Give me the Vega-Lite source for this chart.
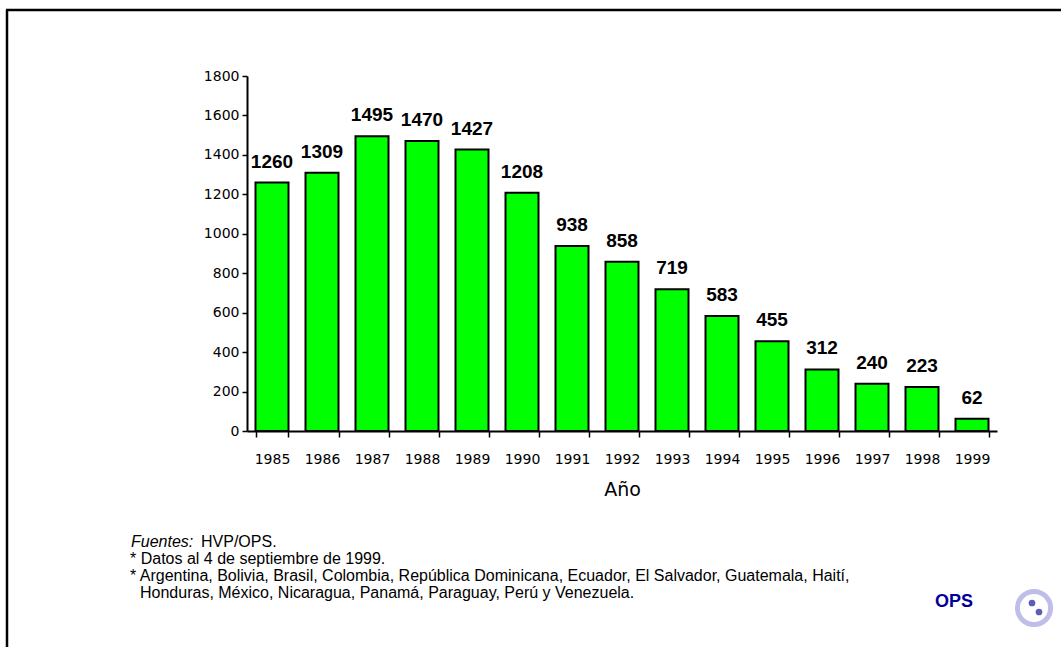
{
  "$schema": "https://vega.github.io/schema/vega-lite/v6.json",
  "autosize": {"type": "none"},
  "width": 750,
  "height": 355,
  "padding": {"left": 247, "top": 76, "right": 64, "bottom": 216},
  "background": "white",
  "config": {
    "view": {"stroke": null},
    "font": "Liberation Sans",
    "axis": {"labelColor": "black", "titleColor": "black", "domainColor": "black", "tickColor": "black", "grid": false, "labelFont": "DejaVu Sans", "titleFont": "DejaVu Sans"}
  },
  "layer": [
    {
      "data": {"values": [
        {"year": "1985", "cases": 1260}, {"year": "1986", "cases": 1309}, {"year": "1987", "cases": 1495},
        {"year": "1988", "cases": 1470}, {"year": "1989", "cases": 1427}, {"year": "1990", "cases": 1208},
        {"year": "1991", "cases": 938}, {"year": "1992", "cases": 858}, {"year": "1993", "cases": 719},
        {"year": "1994", "cases": 583}, {"year": "1995", "cases": 455}, {"year": "1996", "cases": 312},
        {"year": "1997", "cases": 240}, {"year": "1998", "cases": 223}, {"year": "1999", "cases": 62}
      ]},
      "encoding": {
        "x": {"field": "year", "type": "ordinal", "sort": null,
          "scale": {"paddingInner": 0.34, "paddingOuter": 0.17},
          "axis": {"title": "Año", "labelAngle": 0, "labelFontSize": 14, "tickBand": "extent", "tickSize": 6, "tickWidth": 1.5, "domainWidth": 2, "labelPadding": 15, "titleFontSize": 19, "titleFontWeight": "normal", "titlePadding": 14}},
        "y": {"field": "cases", "type": "quantitative",
          "scale": {"domain": [0, 1800], "nice": false},
          "axis": {"title": null, "format": "d", "values": [0, 200, 400, 600, 800, 1000, 1200, 1400, 1600, 1800], "labelFontSize": 14, "tickSize": 5, "tickWidth": 1.5, "domainWidth": 2, "labelPadding": 3}}
      },
      "layer": [
        {"mark": {"type": "bar", "color": "#00FF00", "stroke": "black", "strokeWidth": 2}},
        {"mark": {"type": "text", "fontSize": 19, "fontWeight": "bold", "font": "Liberation Sans", "baseline": "alphabetic", "dy": -15, "color": "black"},
         "encoding": {"text": {"field": "cases", "type": "quantitative", "format": "d"}}}
      ]
    },
    {
      "data": {"values": [{}]},
      "layer": [
        {"mark": {"type": "rule", "stroke": "black", "strokeWidth": 2.5},
         "encoding": {"x": {"value": -240}, "y": {"value": -66}, "y2": {"value": 571}}},
        {"mark": {"type": "rule", "stroke": "black", "strokeWidth": 2.5},
         "encoding": {"x": {"value": -241}, "x2": {"value": 814}, "y": {"value": -66}}},
        {"mark": {"type": "text", "text": "Fuentes:", "fontStyle": "italic", "fontSize": 16, "font": "Liberation Sans", "align": "left", "baseline": "alphabetic", "color": "black"},
         "encoding": {"x": {"value": -116}, "y": {"value": 471}}},
        {"mark": {"type": "text", "text": "HVP/OPS.", "fontSize": 16, "font": "Liberation Sans", "align": "left", "baseline": "alphabetic", "color": "black"},
         "encoding": {"x": {"value": -46}, "y": {"value": 471}}},
        {"mark": {"type": "text", "text": "* Datos al 4 de septiembre de 1999.", "fontSize": 16, "font": "Liberation Sans", "align": "left", "baseline": "alphabetic", "color": "black"},
         "encoding": {"x": {"value": -117}, "y": {"value": 488}}},
        {"mark": {"type": "text", "text": "* Argentina, Bolivia, Brasil, Colombia, República Dominicana, Ecuador, El Salvador, Guatemala, Haití,", "fontSize": 16, "font": "Liberation Sans", "align": "left", "baseline": "alphabetic", "color": "black"},
         "encoding": {"x": {"value": -117}, "y": {"value": 505}}},
        {"mark": {"type": "text", "text": "Honduras, México, Nicaragua, Panamá, Paraguay, Perú y Venezuela.", "fontSize": 16, "font": "Liberation Sans", "align": "left", "baseline": "alphabetic", "color": "black"},
         "encoding": {"x": {"value": -107}, "y": {"value": 522}}},
        {"mark": {"type": "text", "text": "OPS", "fontSize": 18, "fontWeight": "bold", "font": "Liberation Sans", "align": "center", "baseline": "alphabetic", "color": "#000099"},
         "encoding": {"x": {"value": 707}, "y": {"value": 531}}},
        {"mark": {"type": "point", "shape": "circle", "size": 1100, "filled": false, "stroke": "#a3a3e0", "strokeWidth": 5},
         "encoding": {"x": {"value": 787}, "y": {"value": 532}}},
        {"mark": {"type": "point", "shape": "circle", "size": 45, "filled": true, "color": "#1a1a99"},
         "encoding": {"x": {"value": 785}, "y": {"value": 527}}},
        {"mark": {"type": "point", "shape": "circle", "size": 45, "filled": true, "color": "#1a1a99"},
         "encoding": {"x": {"value": 792}, "y": {"value": 536}}}
      ]
    }
  ]
}
